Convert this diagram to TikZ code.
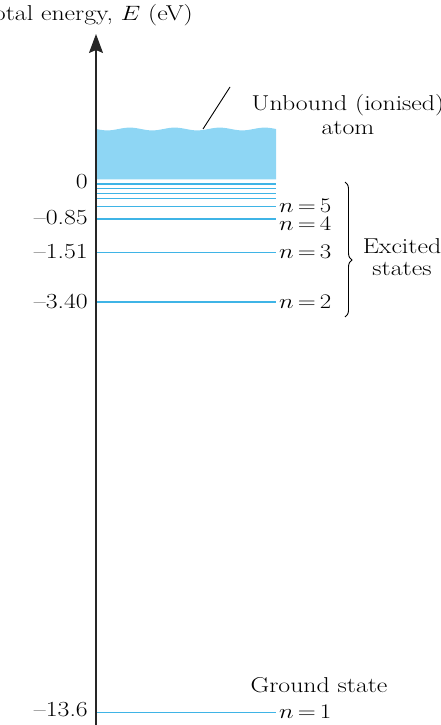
\documentclass[tikz,border=0pt]{standalone}
\usepackage{graphicx}
\usetikzlibrary{arrows.meta,decorations.pathreplacing}
\definecolor{bandblue}{HTML}{8ED6F4}
\definecolor{lvlblue}{HTML}{3FB4E6}
\newcommand{\wtext}[1]{\scalebox{1.2}[1]{#1}}
\newcommand{\nlev}[1]{\wtext{$n\mkern3mu{=}\mkern3mu#1$}}
\begin{document}
\begin{tikzpicture}[x=1pt,y=-1pt,
  lbl/.style={inner sep=0pt,font=\fontsize{21.5}{25}\selectfont},
  lvl/.style={draw=lvlblue,line width=1.2pt},
  axisline/.style={draw=black!85,line width=1.3pt,-{Stealth[length=19pt,width=14pt,inset=3pt]}}]
\useasboundingbox (0,0) rectangle (441,725);
% band
\fill[bandblue] (96.6,179.3) -- plot[domain=96.6:276,samples=80,smooth] (\x,{129+1.4*sin(8*(\x-96))}) -- (276,179.3) -- cycle;
% levels
\coordinate (a0) at (96,184);   \coordinate (b0) at (276,184);
\coordinate (a1) at (96,188.7); \coordinate (b1) at (276,188.7);
\coordinate (a2) at (96,193.3); \coordinate (b2) at (276,193.3);
\coordinate (a3) at (96,198.3); \coordinate (b3) at (276,198.3);
\coordinate (a5) at (96,206.5); \coordinate (b5) at (276,206.5);
\coordinate (a4) at (96,219);   \coordinate (b4) at (276,219);
\coordinate (a6) at (96,252.7); \coordinate (b6) at (276,252.7);
\coordinate (a7) at (96,302);   \coordinate (b7) at (276,302);
\coordinate (a8) at (96,712.7); \coordinate (b8) at (276,712.7);
\foreach \i in {0,1,2,3,5,4,6,7,8} \draw[lvl] (a\i) -- (b\i);
% axis
\coordinate (axb) at (96,726);
\coordinate (axt) at (96,34);
\draw[axisline] (axb) -- (axt);
% title
\node[lbl,anchor=base east] (title) at (193,21) {\wtext{Total energy, $E$ (eV)}};
% unbound label
\node[lbl,anchor=base] (unb1) at (348,110.7) {\wtext{Unbound (ionised)}};
\node[lbl,anchor=base] (unb2) at (348,134) {\wtext{atom}};
\coordinate (pt1) at (230,87);
\coordinate (pt2) at (203,129);
\draw[line width=0.9pt] (pt1) -- (pt2);
% energy values
\node[lbl,anchor=base east] (e0) at (88,188) {\wtext{0}};
\node[lbl,anchor=base east] (e4) at (88,224) {\wtext{--0.85}};
\node[lbl,anchor=base east] (e3) at (88,258.3) {\wtext{--1.51}};
\node[lbl,anchor=base east] (e2) at (88,308) {\wtext{--3.40}};
\node[lbl,anchor=base east] (e1) at (88,716) {\wtext{--13.6}};
% n labels
\node[lbl,anchor=base west] (n5) at (279,212.7) {\nlev{5}};
\node[lbl,anchor=base west] (n4) at (279,230.7) {\nlev{4}};
\node[lbl,anchor=base west] (n3) at (279,258.3) {\nlev{3}};
\node[lbl,anchor=base west] (n2) at (279,308) {\nlev{2}};
\node[lbl,anchor=base west] (n1) at (279,718) {\nlev{1}};
% brace
\coordinate (br1) at (345,182);
\coordinate (br2) at (345,317);
\draw[line width=0.9pt,decorate,decoration={brace,amplitude=7pt,aspect=0.578}] (br1) -- (br2);
\node[lbl,anchor=base] (exc1) at (402,253.3) {\wtext{Excited}};
\node[lbl,anchor=base] (exc2) at (402,275) {\wtext{states}};
% ground
\node[lbl,anchor=base] (gs) at (319,692) {\wtext{Ground state}};
\end{tikzpicture}
\end{document}
